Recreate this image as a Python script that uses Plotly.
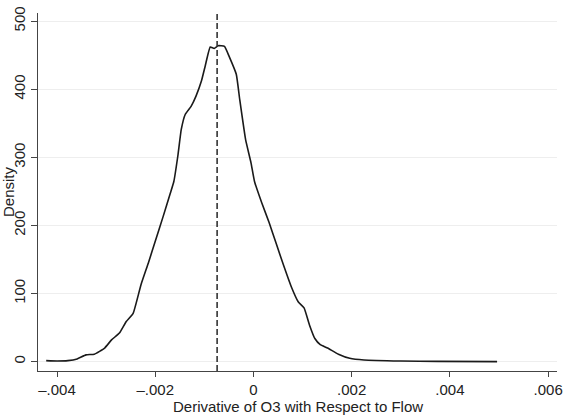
import plotly.graph_objects as go

# Kernel density estimate
x_vals = [-0.00422, -0.00400, -0.00378, -0.00359, -0.00341, -0.00324, -0.00303, -0.00289,
          -0.00273, -0.00259, -0.00245, -0.00229, -0.00214, -0.00199, -0.00184, -0.00169,
          -0.00162, -0.00154, -0.00147, -0.00139, -0.00127, -0.00117, -0.00106, -0.00098,
          -0.00088, -0.00080, -0.00072, -0.00059, -0.00050, -0.00035, -0.00028, -0.00016,
          -0.00005, 0.00002, 0.00017, 0.00032, 0.00047, 0.00062, 0.00077, 0.00091,
          0.00103, 0.00114, 0.00125, 0.00136, 0.00151, 0.00173, 0.00196, 0.00225,
          0.00300, 0.00374, 0.00496]
density = [1.5, 1, 1.5, 4, 10, 11, 20, 32,
           42, 59, 71, 113, 145, 179, 213, 248,
           265, 302, 341, 363, 375, 390, 412, 435,
           462, 460, 464, 463, 449, 422, 385, 326,
           292, 265, 233, 204, 172, 140, 110, 88,
           79, 54, 34, 25, 20, 11, 5, 2.5,
           1, 0.5, 0]
mean_value = -0.00074

x_ticks = [-0.004, -0.002, 0, 0.002, 0.004, 0.006]
x_tick_labels = ["\u2013.004", "\u2013.002", "0", ".002", ".004", ".006"]
y_ticks = [0, 100, 200, 300, 400, 500]
y_tick_labels = ["0", "100", "200", "300", "400", "500"]
x_title = "Derivative of O3 with Respect to Flow"

fig = go.Figure()
fig.add_trace(go.Scatter(x=x_vals, y=density, mode="lines",
                         line=dict(color="#1a1a1a", width=1.6, shape="spline", smoothing=0.4),
                         showlegend=False))
fig.add_shape(type="line", xref="x", yref="paper", x0=mean_value, x1=mean_value, y0=0, y1=1,
              line=dict(color="#333333", width=1.6, dash="6px,3px"))

font = "Liberation Sans, Arial, Helvetica, sans-serif"
fig.add_annotation(text=x_title, xref="paper", yref="paper", x=0.5, y=-0.099,
                   xanchor="center", yanchor="middle", showarrow=False,
                   font=dict(family=font, size=15, color="#222222"))
fig.update_layout(
    width=571, height=418,
    margin=dict(l=38, r=14, t=13, b=47),
    paper_bgcolor="white", plot_bgcolor="white",
    font=dict(family=font, size=15, color="#222222"),
    xaxis=dict(range=[-0.004387, 0.00618], tickvals=x_ticks, ticktext=x_tick_labels,
               showgrid=False, zeroline=False, showline=True, linecolor="#444444", linewidth=1,
               ticks="outside", ticklen=5, tickcolor="#444444", ticklabelstandoff=0,
               automargin=False),
    yaxis=dict(range=[-13.7, 512], tickvals=y_ticks, ticktext=y_tick_labels, tickangle=-90,
               showgrid=True, gridcolor="#eeeeee", gridwidth=1, zeroline=False,
               showline=True, linecolor="#444444", linewidth=1,
               ticks="outside", ticklen=6, tickcolor="#444444", automargin=False,
               title=dict(text="Density", standoff=0, font=dict(size=15))),
)
fig.write_html("out.html")
